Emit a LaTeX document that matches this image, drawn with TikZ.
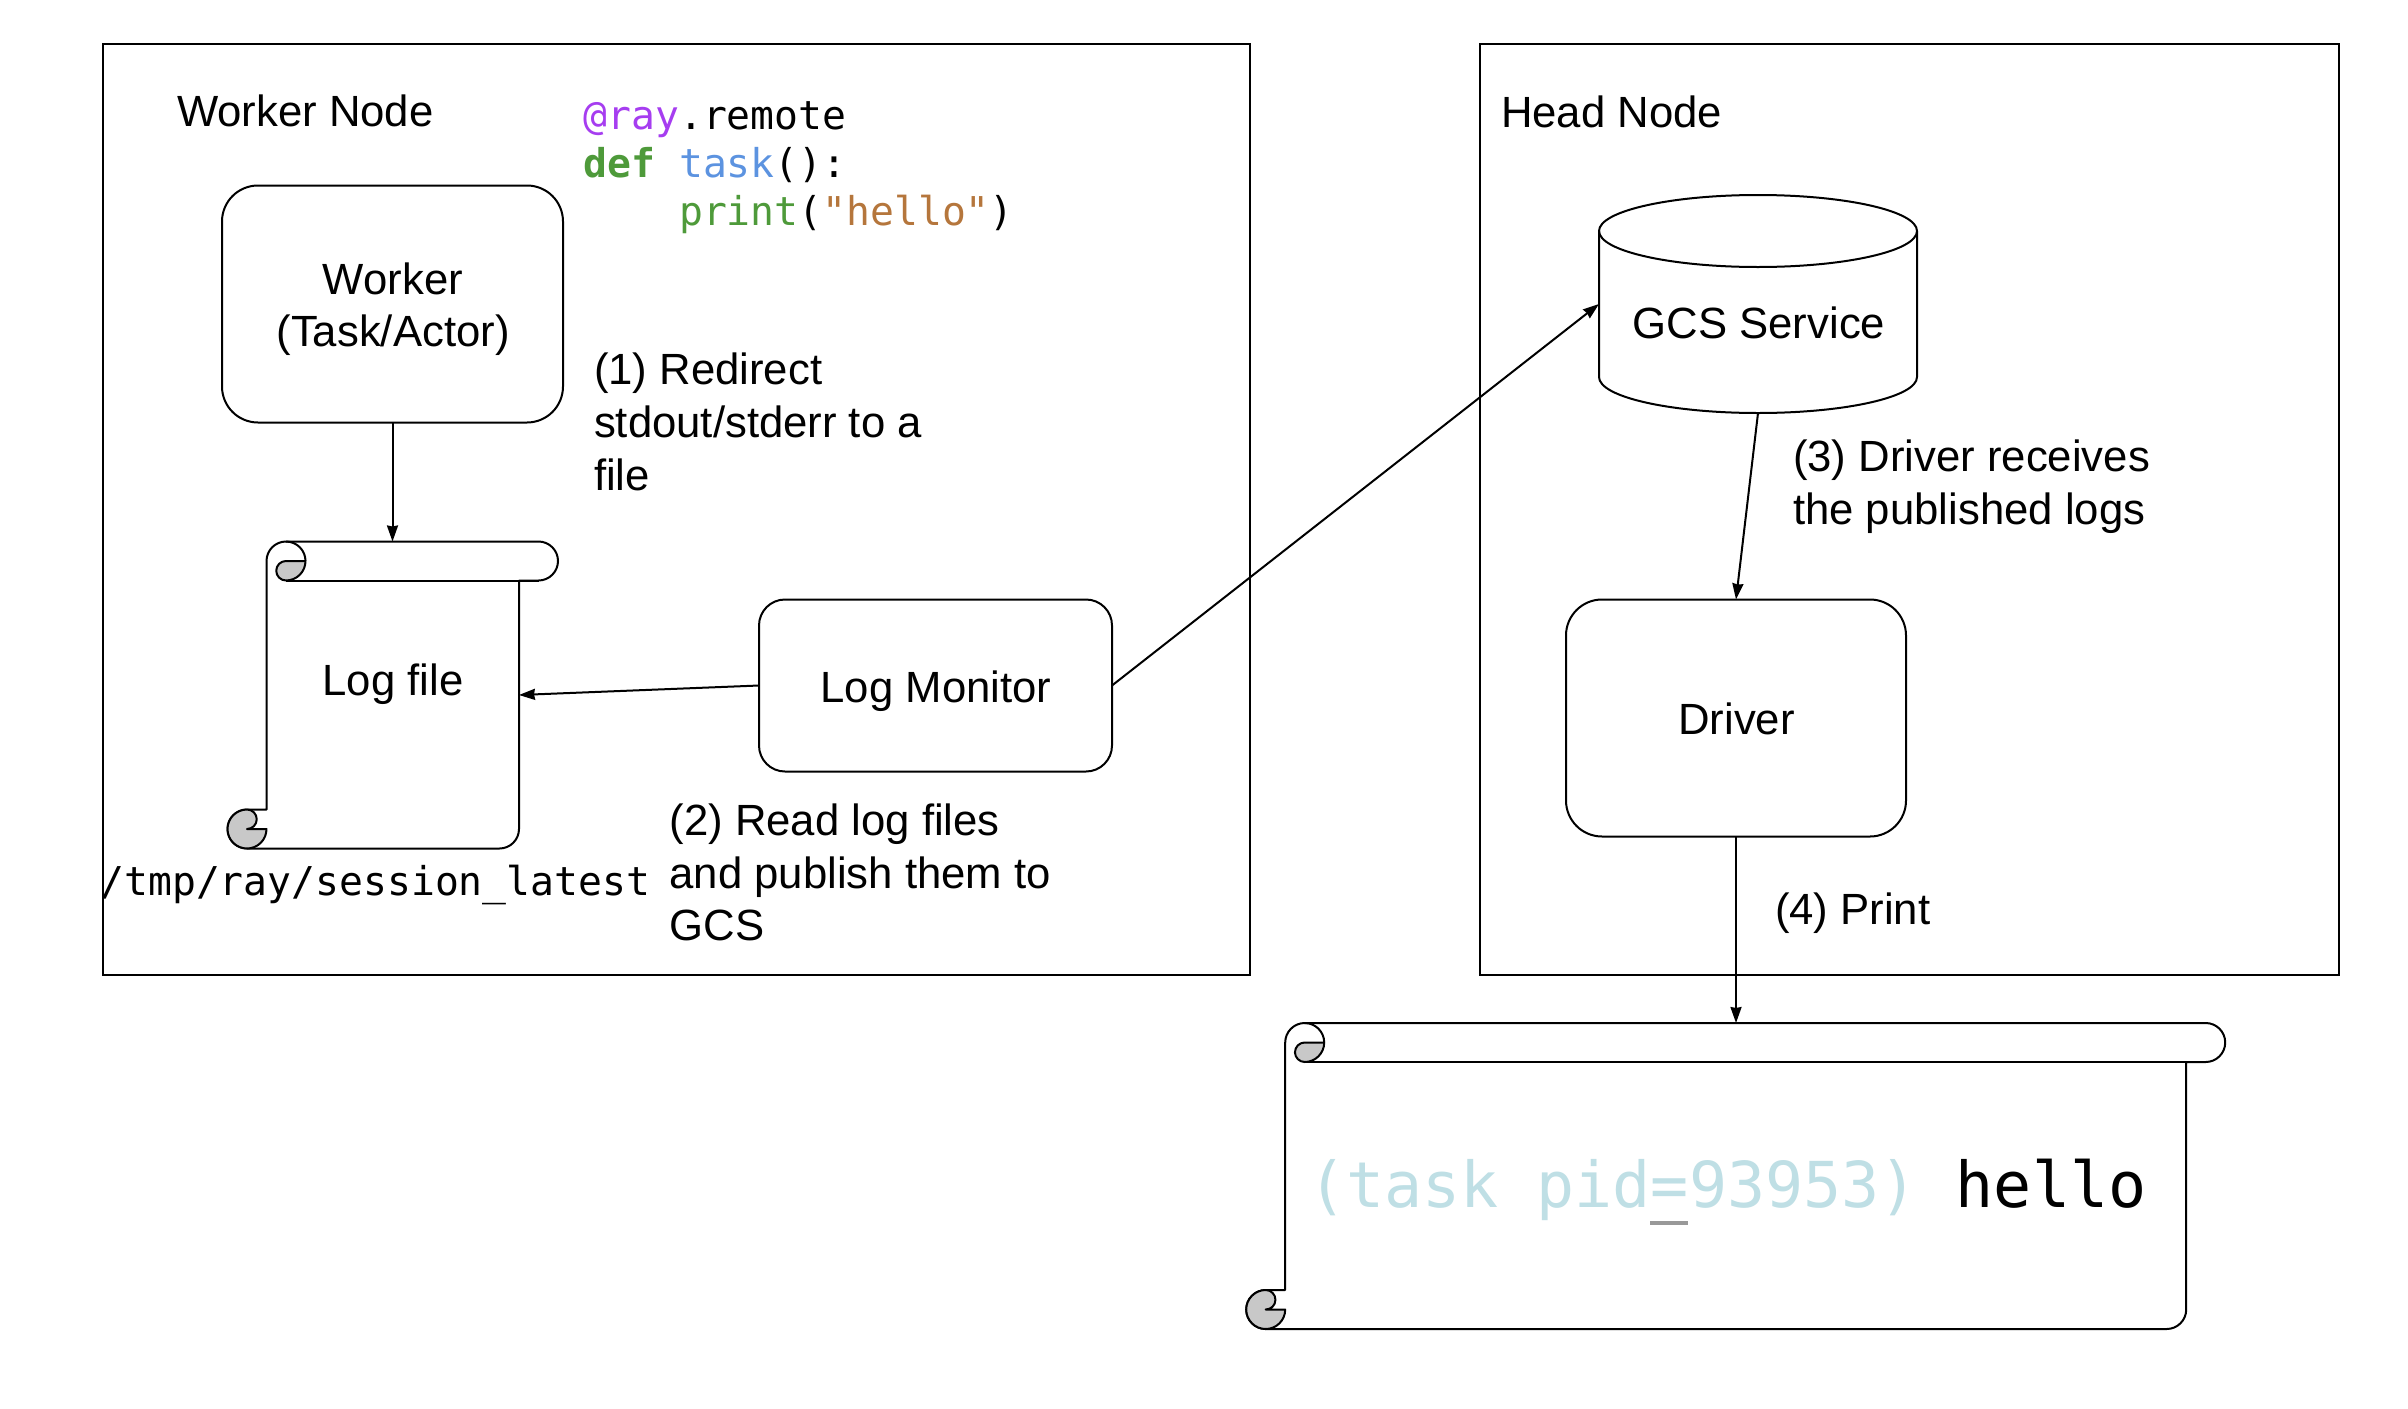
\documentclass[tikz,border=0pt]{standalone}
\usepackage{fontspec}
\setmainfont{Liberation Sans}
\newfontfamily\codefont{DejaVu Sans Mono}
\usetikzlibrary{arrows.meta}
\definecolor{rollgrey}{HTML}{C8C8C8}
\definecolor{decor}{HTML}{A63DF0}
\definecolor{fname}{HTML}{5C93E0}
\definecolor{kw}{HTML}{4E9A3A}
\definecolor{strc}{HTML}{B5763C}
\definecolor{pidc}{HTML}{BFDFE5}
\definecolor{curs}{HTML}{999999}
\def\qh#1#2{.. controls +({(#1)*.55},0) and +(0,{(-1)*(#2)*.55}) .. ++(#1,#2)}
\def\qv#1#2{.. controls +(0,{(#2)*.55}) and +({(-1)*(#1)*.55},0) .. ++(#1,#2)}
\newcommand{\scrollroll}[4]{%
  \begin{scope}[shift={(#1,#2)}]
    \filldraw[shapeline,fill=white] (58.5,0) -- ({#3-19.5},0) \qh{19.5}{19.5} \qv{-19.5}{19.5} -- ({#3-39},39) -- ({#3-39},{#4-19.5}) \qv{-19.5}{19.5} -- (19.5,#4) \qh{-19.5}{-19.5} \qv{19.5}{-19.5} -- (39,{#4-39}) -- (39,19.5) \qv{19.5}{-19.5} -- cycle;
    \draw[shapeline] (58.5,39) -- ({#3-19.5},39);
    \filldraw[shapeline,fill=rollgrey] (78,19.5) -- (58.5,19.5) \qh{-9.75}{9.75} \qv{9.75}{9.75} \qh{19.5}{-19.5} -- cycle;
    \draw[shapeline] (58.5,0) \qh{19.5}{19.5};
    \filldraw[shapeline,fill=rollgrey] (19.5,#4) \qh{-19.5}{-19.5} \qv{19.5}{-19.5} \qh{9.75}{9.75} \qv{-9.75}{9.75} -- (39,{#4-19.5}) \qv{-19.5}{19.5} -- cycle;
  \end{scope}}
\tikzset{
  shapeline/.style={draw=black,line width=2pt,line join=round},
  frame/.style={draw=black,line width=2.2pt,inner sep=0,outer sep=0},
  roundbox/.style={shapeline,rounded corners=#1,inner sep=0,outer sep=0},
  ghost/.style={inner sep=0,outer sep=0},
  label/.style={anchor=base west,inner sep=0,outer sep=0,font=\fontsize{43.7}{52}\selectfont},
  mid/.style={anchor=base,inner sep=0,outer sep=0,font=\fontsize{43.7}{52}\selectfont},
  code/.style={anchor=base west,inner sep=0,outer sep=0,font=\fontsize{39.7}{48}\codefont},
  big/.style={anchor=base west,inner sep=0,outer sep=0,font=\fontsize{63.3}{70}\codefont},
  conn/.style={draw=black,line width=2pt,-{Stealth[length=16pt,width=11pt,inset=1pt]}},
}
\begin{document}
\begin{tikzpicture}[x=1pt,y=-1pt]
\useasboundingbox (0,0) rectangle (2408,1408);
\node[frame,minimum width=1147pt,minimum height=930.5pt] (workernode) at (676.5,509.5) {};
\node[frame,minimum width=859pt,minimum height=930.5pt] (headnode) at (1909.5,509.5) {};

\node[roundbox=36pt,minimum width=341pt,minimum height=237pt] (worker) at (392.5,304) {};
\node[roundbox=26pt,minimum width=353pt,minimum height=172pt] (monitor) at (935.5,685.5) {};
\node[roundbox=36pt,minimum width=340pt,minimum height=237pt] (driver) at (1736,718) {};

% log file scroll
\scrollroll{227.5}{541.5}{330.5}{307}
\node[ghost,minimum width=253pt,minimum height=307pt] (logfile) at (392.5,695) {};
% terminal scroll
\scrollroll{1246.2}{1023}{979}{306}
\node[ghost,minimum width=901.5pt,minimum height=306pt] (terminal) at (1736,1176) {};

% GCS cylinder
\filldraw[shapeline,fill=white] (1599,231) .. controls (1599,211) and (1670.5,195) .. (1758,195) .. controls (1845.5,195) and (1917,211) .. (1917,231) -- (1917,377) .. controls (1917,397) and (1845.5,413) .. (1758,413) .. controls (1670.5,413) and (1599,397) .. (1599,377) -- cycle;
\draw[shapeline] (1599,231) .. controls (1599,251) and (1670.5,267) .. (1758,267) .. controls (1845.5,267) and (1917,251) .. (1917,231);
\node[ghost,minimum width=318pt,minimum height=218pt] (gcs) at (1758,304) {};

% texts
\node[label] (tw) at (177,126.5) {Worker Node};
\node[label] (th) at (1501,127) {Head Node};
\node[code] (c1) at (583.5,129) {\textcolor{decor}{@ray}.remote};
\node[code] (c2) at (583.5,177) {\textcolor{kw}{\bfseries def} \textcolor{fname}{task}():};
\node[code] (c3) at (583.5,225.5) {\phantom{def }\textcolor{kw}{print}(\textcolor{strc}{"hello"})};
\node[mid] (w1) at (393,294.5) {Worker};
\node[mid] (w2) at (393,346.5) {(Task/Actor)};
\node[label] (s11) at (594,384.5) {(1) Redirect};
\node[label] (s12) at (594,437) {stdout/stderr to a};
\node[label] (s13) at (594,490) {file};
\node[mid] (lf) at (393,695) {Log file};
\node[mid] (lm) at (936,702) {Log Monitor};
\node[code] (path) at (100.5,895.5) {/tmp/ray/session\_latest};
\node[label] (s21) at (669.5,835) {(2) Read log files};
\node[label] (s22) at (669.5,888) {and publish them to};
\node[label] (s23) at (669.5,940) {GCS};
\node[mid] (gt) at (1759,338.5) {GCS Service};
\node[mid] (dt) at (1736.5,734.5) {Driver};
\node[label] (s31) at (1793,471) {(3) Driver receives};
\node[label] (s32) at (1793,524) {the published logs};
\node[label] (s41) at (1775,924) {(4) Print};
\node[big] (pid) at (1308,1207.5) {\textcolor{pidc}{(task pid=93953)} hello};
\fill[curs] (1650,1221.3) rectangle (1688,1225);

% connectors
\draw[conn] (worker.south) -- (logfile.north);
\draw[conn] (monitor.west) -- (logfile.east);
\draw[conn] (monitor.east) -- (gcs.west);
\draw[conn] (gcs.south) -- (driver.north);
\draw[conn] (driver.south) -- (terminal.north);
\end{tikzpicture}
\end{document}
